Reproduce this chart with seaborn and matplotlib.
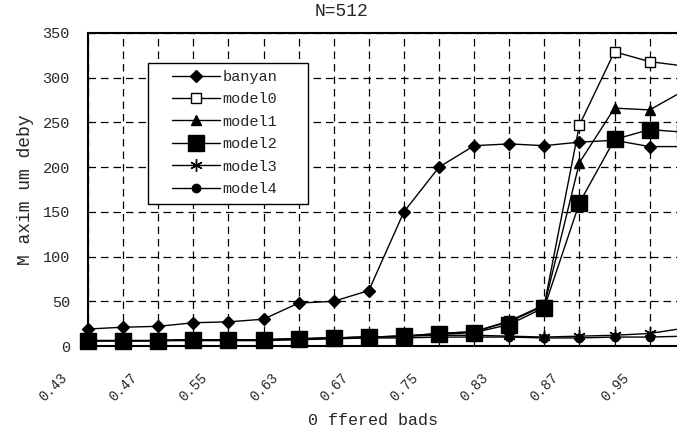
import numpy as np
import pandas as pd
import matplotlib
matplotlib.use("Agg")
import matplotlib.pyplot as plt
import matplotlib.transforms as mtransforms
from matplotlib.patches import Rectangle
import seaborn as sns

# offered load points (only every second one is labelled in the chart)
tick_labels = ['0.43', '0.47', '0.55', '0.63', '0.67', '0.75', '0.83', '0.87', '0.95']

# maximum delay per series, last point lies just past the cropped right edge
banyan = [19, 21, 22, 26, 27, 30, 48, 50, 62, 150, 200, 224, 226, 224, 228, 230, 223, 223]
model0 = [6, 6, 6, 7, 7, 7, 8, 9, 10, 11, 14, 16, 28, 46, 247, 329, 318, 313]
model1 = [6, 6, 6, 7, 7, 7, 8, 9, 10, 11, 14, 16, 27, 45, 205, 266, 264, 286]
model2 = [6, 6, 6, 7, 7, 7, 8, 9, 10, 11, 13, 15, 24, 43, 160, 231, 242, 239]
model3 = [6, 6, 6, 7, 7, 7, 8, 9, 10, 11, 12, 12, 11, 10, 11, 12, 14, 20]
model4 = [6, 6, 6, 6, 6, 6, 7, 8, 9, 9, 10, 10, 10, 9, 9, 10, 10, 11]

sns.set_style("white")
plt.rcParams['font.family'] = ['Liberation Mono', 'DejaVu Sans Mono']

fig = plt.figure(figsize=(6.77, 4.32), dpi=100)
ax = fig.add_axes([88 / 677, 86 / 432, 589 / 677, 313 / 432])

x = np.arange(len(banyan))
series = [
    ('banyan', banyan, 'D', 6, 'k'),
    ('model0', model0, 's', 6.5, 'white'),
    ('model1', model1, '^', 7, 'k'),
    ('model2', model2, 's', 11, 'k'),
    ('model3', model3, (6, 2, 0), 9, 'k'),
    ('model4', model4, 'o', 6, 'k'),
]
for name, vals, mk, ms, fc in series:
    sns.lineplot(x=x, y=vals, ax=ax, color='k', lw=1.0, marker=mk, markersize=ms,
                 markerfacecolor=fc, markeredgecolor='k', markeredgewidth=1.0,
                 label=name, clip_on=False)

ax.set_xlim(0, 16.78)
ax.set_ylim(0, 350)
ax.set_yticks(range(0, 351, 50))
ax.set_xticks(range(0, 17, 2))
ax.set_xticklabels(tick_labels, rotation=45, ha='right', va='top', fontsize=10)
ax.set_xticks(range(1, 17, 2), minor=True)
ax.tick_params(axis='both', length=0)
ax.tick_params(axis='x', pad=18)
ax.tick_params(axis='y', labelsize=11, pad=13)
offset = mtransforms.ScaledTranslation(-18 / 100, 0, fig.dpi_scale_trans)
for lbl in ax.get_xticklabels():
    lbl.set_transform(lbl.get_transform() + offset)

ax.grid(True, which='both', color='k', linestyle=(0, (6, 4)), linewidth=0.9)
ax.set_axisbelow(True)
for side in ['left', 'top', 'bottom']:
    ax.spines[side].set_color('k')
    ax.spines[side].set_linewidth(1.5)
ax.spines['right'].set_visible(False)

ax.set_title('N=512', x=0.431, fontsize=13, pad=12)
ax.set_xlabel('0 ffered bads', x=0.484, fontsize=12, labelpad=6)
ax.set_ylabel('M axim um deby', fontsize=13, labelpad=6)

# legend box drawn separately so it can be wider than its contents
ax.add_patch(Rectangle((60 / 589, 142 / 313), 160 / 589, 141 / 313, transform=ax.transAxes,
                       facecolor='white', edgecolor='k', lw=1.0, zorder=4))
leg = ax.legend(loc='upper left', bbox_to_anchor=(84 / 589, 1 - 37 / 313), fontsize=11,
                frameon=False, handlelength=3.15, handletextpad=0.15,
                labelspacing=0.55, borderpad=0, borderaxespad=0)
leg.set_zorder(5)

fig.savefig('out.png', dpi=100)
